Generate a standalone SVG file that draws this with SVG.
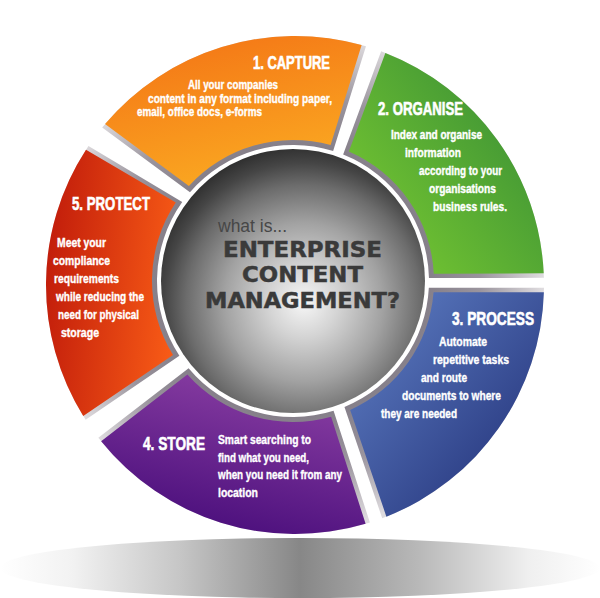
<svg xmlns="http://www.w3.org/2000/svg" width="600" height="598" viewBox="0 0 600 598">
<defs>
<radialGradient id="bevel" gradientUnits="userSpaceOnUse" cx="293" cy="281" r="249">
<stop offset="0.54" stop-color="#857f89"/>
<stop offset="0.75" stop-color="#9a949d"/>
<stop offset="1" stop-color="#dedbde"/>
</radialGradient>
<linearGradient id="gOrange" x1="0.3" y1="0" x2="0.7" y2="1">
<stop offset="0" stop-color="#f47616"/>
<stop offset="1" stop-color="#fbac22"/>
</linearGradient>
<linearGradient id="gGreen" x1="1" y1="0.15" x2="0.15" y2="0.9">
<stop offset="0" stop-color="#368c36"/>
<stop offset="1" stop-color="#75c631"/>
</linearGradient>
<linearGradient id="gBlue" x1="0.1" y1="0.1" x2="0.9" y2="0.9">
<stop offset="0" stop-color="#5a79bf"/>
<stop offset="1" stop-color="#24337a"/>
</linearGradient>
<linearGradient id="gPurple" x1="0.7" y1="0" x2="0.3" y2="1">
<stop offset="0" stop-color="#8c40a4"/>
<stop offset="1" stop-color="#470c7a"/>
</linearGradient>
<linearGradient id="gRed" x1="0" y1="0.4" x2="1" y2="0.6">
<stop offset="0" stop-color="#c21d0b"/>
<stop offset="1" stop-color="#f85b16"/>
</linearGradient>
<radialGradient id="gCircle" cx="0.54" cy="0.58" r="0.6">
<stop offset="0" stop-color="#f7f7f7"/>
<stop offset="0.22" stop-color="#d4d4d4"/>
<stop offset="0.5" stop-color="#a2a2a2"/>
<stop offset="0.74" stop-color="#6c6c6c"/>
<stop offset="0.88" stop-color="#454545"/>
<stop offset="1" stop-color="#2c2c2c"/>
</radialGradient>
<linearGradient id="gShadow" x1="0" y1="0" x2="1" y2="0">
<stop offset="0" stop-color="#ffffff"/>
<stop offset="0.12" stop-color="#f2f2f2"/>
<stop offset="0.3" stop-color="#c6c6c6"/>
<stop offset="0.5" stop-color="#878787"/>
<stop offset="0.7" stop-color="#b9b9b9"/>
<stop offset="0.88" stop-color="#efefef"/>
<stop offset="1" stop-color="#ffffff"/>
</linearGradient>
</defs>
<style>
.bevel{fill:url(#bevel)}
.title{font-family:"Liberation Sans Narrow","Liberation Sans",Arial,sans-serif;font-weight:bold;font-size:18px;fill:#ffffff;stroke:#ffffff;stroke-width:0.6px}
.body{font-family:"Liberation Sans Narrow","Liberation Sans",Arial,sans-serif;font-weight:bold;font-size:12px;fill:#ffffff;stroke:#ffffff;stroke-width:0.35px}
.what{font-family:"Liberation Sans",Arial,sans-serif;font-size:17.5px;fill:#474747}
.ecm{font-family:"DejaVu Sans",Verdana,sans-serif;font-weight:bold;font-size:22px;fill:#3a3a3a;stroke:#3a3a3a;stroke-width:0.5px;text-anchor:middle}
</style>
<rect width="600" height="598" fill="#ffffff"/>
<ellipse id="shadow" cx="300" cy="568" rx="300" ry="30" fill="url(#gShadow)"/>

<g id="node-capture">
<path class="bevel" d="M 102.18 127.46 A 249 249 0 0 1 365.97 46.33 L 333.13 151.06 A 136 136 0 0 0 189.95 192.24 Z"/>
<path fill="url(#gOrange)" d="M 105.04 124.02 A 249 249 0 0 1 361.63 45.08 L 330.61 145.11 A 141 141 0 0 0 188.91 185.89 Z"/>
<text class="title" x="253" y="69" textLength="77" lengthAdjust="spacingAndGlyphs">1. CAPTURE</text>
<text class="body" x="188" y="89" textLength="90" lengthAdjust="spacingAndGlyphs">All your companies</text>
<text class="body" x="148" y="103" textLength="184" lengthAdjust="spacingAndGlyphs">content in any format including paper,</text>
<text class="body" x="137" y="116" textLength="125" lengthAdjust="spacingAndGlyphs">email, office docs, e-forms</text>
</g>

<g id="node-organise">
<path class="bevel" d="M 381.14 51.37 A 249 249 0 0 1 543.9 277.83 L 428.97 278.08 A 136 136 0 0 0 343.15 154.59 Z"/>
<path fill="url(#gGreen)" d="M 385.37 52.97 A 249 249 0 0 1 543.73 273.31 L 433.82 273.79 A 141 141 0 0 0 348.84 151.53 Z"/>
<text class="title" x="378" y="115" textLength="85" lengthAdjust="spacingAndGlyphs">2. ORGANISE</text>
<text class="body" x="391" y="139" textLength="91" lengthAdjust="spacingAndGlyphs">Index and organise</text>
<text class="body" x="405" y="157" textLength="56" lengthAdjust="spacingAndGlyphs">information</text>
<text class="body" x="419" y="175" textLength="83" lengthAdjust="spacingAndGlyphs">according to your</text>
<text class="body" x="429" y="193" textLength="67" lengthAdjust="spacingAndGlyphs">organisations</text>
<text class="body" x="433" y="211" textLength="74" lengthAdjust="spacingAndGlyphs">business rules.</text>
</g>

<g id="node-process">
<path class="bevel" d="M 543.98 287.82 A 249 249 0 0 1 382.2 518.24 L 344.47 406.88 A 136 136 0 0 0 428.83 287.71 Z"/>
<path fill="url(#gBlue)" d="M 543.89 292.34 A 249 249 0 0 1 386.39 516.64 L 350.17 409.89 A 141 141 0 0 0 433.56 292.14 Z"/>
<text class="title" x="452" y="325" textLength="82" lengthAdjust="spacingAndGlyphs">3. PROCESS</text>
<text class="body" x="439" y="346" textLength="48" lengthAdjust="spacingAndGlyphs">Automate</text>
<text class="body" x="433" y="364" textLength="76" lengthAdjust="spacingAndGlyphs">repetitive tasks</text>
<text class="body" x="421" y="382" textLength="46" lengthAdjust="spacingAndGlyphs">and route</text>
<text class="body" x="402" y="400" textLength="99" lengthAdjust="spacingAndGlyphs">documents to where</text>
<text class="body" x="381" y="418" textLength="76" lengthAdjust="spacingAndGlyphs">they are needed</text>
</g>

<g id="node-store">
<path class="bevel" d="M 369.88 522.48 A 249 249 0 0 1 98.33 437.72 L 188.59 368.15 A 136 136 0 0 0 333.58 410.81 Z"/>
<path fill="url(#gPurple)" d="M 365.6 523.79 A 249 249 0 0 1 101.13 441.26 L 187.41 374.45 A 141 141 0 0 0 331.11 416.75 Z"/>
<text class="title" x="143" y="450" textLength="62" lengthAdjust="spacingAndGlyphs">4. STORE</text>
<text class="body" x="218" y="444" textLength="93" lengthAdjust="spacingAndGlyphs">Smart searching to</text>
<text class="body" x="218" y="462" textLength="91" lengthAdjust="spacingAndGlyphs">find what you need,</text>
<text class="body" x="218" y="479" textLength="124" lengthAdjust="spacingAndGlyphs">when you need it from any</text>
<text class="body" x="218" y="497" textLength="40" lengthAdjust="spacingAndGlyphs">location</text>
</g>

<g id="node-protect">
<path class="bevel" d="M 85.63 419.78 A 249 249 0 0 1 88.45 145.94 L 182.23 202.1 A 136 136 0 0 0 179.4 355.77 Z"/>
<path fill="url(#gRed)" d="M 83.21 415.95 A 249 249 0 0 1 85.98 149.68 L 175.8 202.6 A 141 141 0 0 0 173.02 355.07 Z"/>
<text class="title" x="72" y="210" textLength="78" lengthAdjust="spacingAndGlyphs">5. PROTECT</text>
<text class="body" x="57" y="247" textLength="49" lengthAdjust="spacingAndGlyphs">Meet your</text>
<text class="body" x="53" y="265" textLength="57" lengthAdjust="spacingAndGlyphs">compliance</text>
<text class="body" x="54" y="283" textLength="65" lengthAdjust="spacingAndGlyphs">requirements</text>
<text class="body" x="56" y="301" textLength="88" lengthAdjust="spacingAndGlyphs">while reducing the</text>
<text class="body" x="58" y="319" textLength="81" lengthAdjust="spacingAndGlyphs">need for physical</text>
<text class="body" x="61" y="337" textLength="38" lengthAdjust="spacingAndGlyphs">storage</text>
</g>

<g id="node-center">
<circle cx="293" cy="281" r="132" fill="url(#gCircle)"/>
<text class="what" x="218" y="232">what is...</text>
<text class="ecm" x="302.5" y="257" textLength="159" lengthAdjust="spacingAndGlyphs">ENTERPRISE</text>
<text class="ecm" x="302.5" y="282" textLength="121" lengthAdjust="spacingAndGlyphs">CONTENT</text>
<text class="ecm" x="302.5" y="308" textLength="195" lengthAdjust="spacingAndGlyphs">MANAGEMENT?</text>
</g>
</svg>
